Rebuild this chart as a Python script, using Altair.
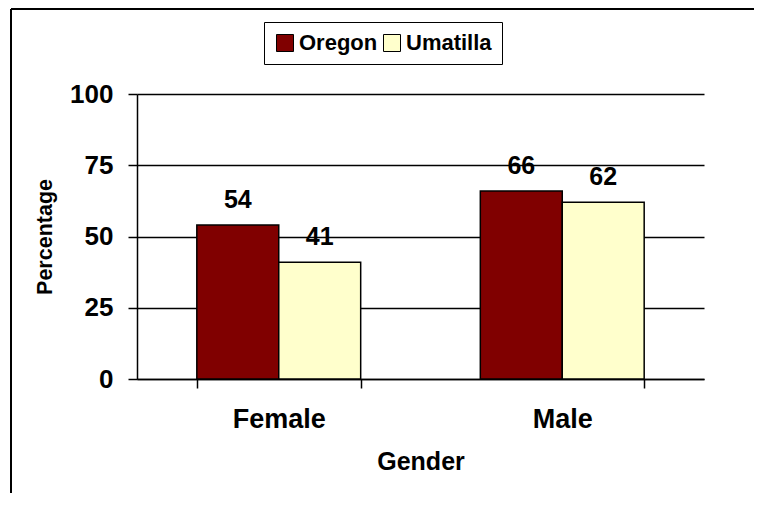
import altair as alt
import pandas as pd

genders = ["Female", "Female", "Male", "Male"]
regions = ["Oregon", "Umatilla", "Oregon", "Umatilla"]
values = [54, 41, 66, 62]
region_order = ["Oregon", "Umatilla"]
region_colors = ["#800000", "#FFFFCC"]
y_ticks = [0, 25, 50, 75, 100]

df = pd.DataFrame({"Gender": genders, "Region": regions, "Percentage": values})

FONT = "Liberation Sans"
W, H = 567, 285

x_enc = alt.X(
    "Gender:N",
    sort=["Female", "Male"],
    scale=alt.Scale(paddingInner=0.422, paddingOuter=0.211),
    axis=alt.Axis(
        title="Gender", labelAngle=0, tickBand="extent", tickSize=9,
        tickColor="black", tickWidth=1.5, domainColor="black", domainWidth=1.5,
        labelFontSize=27, labelFont=FONT, labelFontWeight="bold", labelColor="black",
        labelPadding=18, titleFontSize=25, titleFont=FONT, titleFontWeight="bold",
        titleColor="black", titlePadding=17, grid=False,
    ),
)
xo_enc = alt.XOffset("Region:N", sort=region_order, scale=alt.Scale(paddingInner=0, paddingOuter=0))
y_enc = alt.Y(
    "Percentage:Q",
    scale=alt.Scale(domain=[0, 100], nice=False),
    axis=alt.Axis(
        values=y_ticks, title="Percentage", tickSize=9, tickColor="black", tickWidth=1.5,
        domainColor="black", domainWidth=1.5, gridColor="black", gridWidth=1.5,
        gridOpacity=1, labelFontSize=26, labelFont=FONT, labelFontWeight="bold",
        labelColor="black", labelPadding=15, titleFontSize=21.5, titleFont=FONT,
        titleFontWeight="bold", titleColor="black", titlePadding=13,
    ),
)

bars = alt.Chart(df).mark_bar(stroke="black", strokeWidth=1.5).encode(
    x=x_enc,
    xOffset=xo_enc,
    y=y_enc,
    color=alt.Color(
        "Region:N",
        sort=region_order,
        scale=alt.Scale(domain=region_order, range=region_colors),
        legend=alt.Legend(
            title=None, orient="none", legendX=127, legendY=-72, direction="horizontal",
            strokeColor="black", padding=10, symbolType="square", symbolSize=289,
            symbolStrokeColor="black", symbolStrokeWidth=1, labelFontSize=22,
            labelFont=FONT, labelFontWeight="bold", labelColor="black",
            columnPadding=3, labelOffset=3,
        ),
    ),
)

labels = alt.Chart(df).mark_text(
    font=FONT, fontSize=25, fontWeight="bold", color="black", dy=-17, baseline="alphabetic"
).encode(
    x=alt.X("Gender:N", sort=["Female", "Male"]),
    xOffset=alt.XOffset("Region:N", sort=region_order),
    y="Percentage:Q",
    text="Percentage:Q",
)

frame_src = pd.DataFrame({"k": [0]})
frame_top = alt.Chart(frame_src).mark_rule(color="black", strokeWidth=2).encode(
    x=alt.value(-126), x2=alt.value(640), y=alt.value(-85)
)
frame_left = alt.Chart(frame_src).mark_rule(color="black", strokeWidth=2).encode(
    x=alt.value(-126), y=alt.value(-85), y2=alt.value(420)
)

chart = alt.layer(bars, labels, frame_top, frame_left).properties(
    width=W, height=H,
    autosize=alt.AutoSizeParams(type="none"),
    padding={"left": 129, "top": 86, "right": 50, "bottom": 114},
).configure_view(stroke=None)

chart.save("out.html", embed_options={"renderer": "svg", "actions": False})
